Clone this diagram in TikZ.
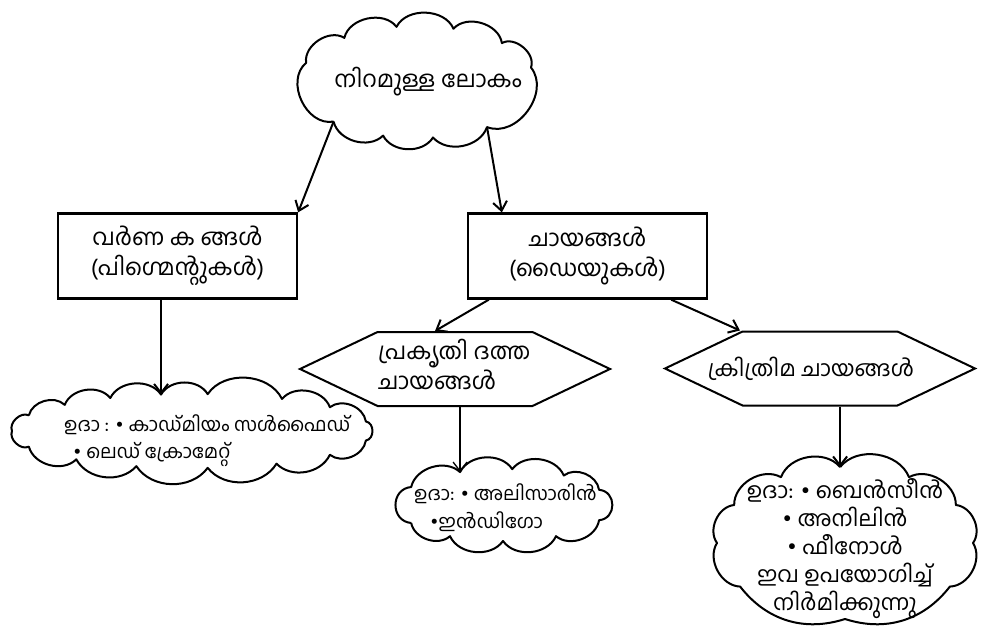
\documentclass[tikz,border=0pt]{standalone}
\usepackage{fontspec}
\newfontfamily\mlfont[Script=Malayalam]{Hind Kochi}
\usetikzlibrary{shapes.symbols,shapes.geometric,arrows.meta,calc}

% Puffy outline around an (invisible) elliptical node.
% #1 node name, #2 half width, #3 half height, #4 start angle,
% #5 list of angle/bend/looseness; cusp k is named <node>-p<k>.
\newcommand\puffoutline[5]{%
  \draw[cloudline] ($(#1.center)+({#2*cos(#4)},{#3*sin(#4)})$) coordinate (#1-p0)
    \foreach \t/\b/\l [count=\k] in {#5} {
      to[bend left=\b,looseness=\l] ($(#1.center)+({#2*cos(\t)},{#3*sin(\t)})$) coordinate (#1-p\k)
    };%
}

\begin{document}
\begin{tikzpicture}[x=1pt,y=-1pt,
  every node/.style={font=\mlfont\fontsize{23}{30}\selectfont},
  small/.style={font=\mlfont\fontsize{19}{27}\selectfont},
  box/.style={draw,line width=2.3pt,minimum width=239pt,minimum height=85pt,inner sep=0pt,align=center},
  hexa/.style={signal,signal to=east and west,signal pointer angle=51,draw,line width=2pt,
    minimum width=310pt,minimum height=74pt,inner sep=0pt},
  puffbase/.style={ellipse,inner sep=0pt},
  cloudline/.style={line width=2pt,line join=round},
  conn/.style={-{Straight Barb[length=9pt,width=14pt]},line width=2pt},
  thinconn/.style={-{Straight Barb[length=9pt,width=14pt]},line width=1.3pt},
  txt/.style={inner sep=0pt}
]
\useasboundingbox (0,0) rectangle (987,631);

% top-level idea
\node[puffbase,minimum width=236pt,minimum height=112pt] (world) at (417,82) {};
\puffoutline{world}{118}{56}{135}{200/75/1.1, 232/65/1, 260/65/1, 288/65/1, 316/65/1,
  345/70/1, 413.6/75/1.1, 442.2/60/1, 466.7/60/1, 495/60/1}
\node[txt] (worldtxt) at (428,82) {നിറമുള്ള ലോകം};

% two kinds of colourants
\node[box] (pig) at (177.5,256) {വർണ ക ങ്ങൾ\\(പിഗ്മെന്റുകൾ)};
\node[box] (dye) at (587.5,256) {ചായങ്ങൾ\\(ഡൈയുകൾ)};

% kinds of dyes
\node[hexa] (nat) at (455,369) {};
\node[txt,anchor=base west] (nattxta) at (378,359) {പ്രകൃതി ദത്ത};
\node[txt,anchor=base west] (nattxtb) at (378,389) {ചായങ്ങൾ};
\node[hexa] (syn) at (820,368.5) {};
\node[txt,anchor=base,font=\mlfont\fontsize{22}{30}\selectfont] (syntxt) at (811,376) {ക്രിത്രിമ ചായങ്ങൾ};

% examples of pigments
\node[puffbase,minimum width=360pt,minimum height=74pt] (pigeg) at (192,431) {};
\puffoutline{pigeg}{180}{37}{205}{225/60/1, 243/60/1, 260.1/60/1, 275/60/1, 300/60/1,
  320/60/1, 345/60/1, 375/80/1.2, 400/60/1, 422/55/1, 445/55/1, 468/55/1, 490/55/1,
  515/60/1, 540/70/1, 565/70/1}
\node[txt,small,anchor=base west] (pigegtxta) at (64,431) {ഉദാ : • കാഡ്മിയം സൾഫൈഡ്};
\node[txt,small,anchor=base west] (pigegtxtb) at (73,458) {• ലെഡ് ക്രോമേറ്റ്};

% examples of natural dyes
\node[puffbase,minimum width=212pt,minimum height=72pt] (nateg) at (503,505) {};
\puffoutline{nateg}{106}{36}{150}{210/85/1.5, 246.1/60/1, 275/60/1, 305/60/1, 335/60/1,
  385/85/1.5, 420/60/1, 450/60/1, 480/60/1, 510/60/1}
\node[txt,small,anchor=base west] (nategtxta) at (414,500) {ഉദാ: • അലിസാരിൻ};
\node[txt,small,anchor=base west] (nategtxtb) at (430,528) {•ഇൻഡിഗോ};

% examples of synthetic dyes
\node[puffbase,minimum width=256pt,minimum height=152pt] (syneg) at (845,543) {};
\puffoutline{syneg}{128}{76}{267.8}{300/60/1, 330/60/1, 360/60/1, 395/60/1, 450/35/1,
  505/35/1, 540/60/1, 570/60/1, 600/60/1, 627.8/60/1}
\node[txt,align=center,font=\mlfont\fontsize{22}{28}\selectfont] (synegtxt) at (845,549)
  {ഉദാ: • ബെൻസീൻ\\• അനിലിൻ\\• ഫീനോൾ\\ഇവ ഉപയോഗിച്ച്\\നിർമിക്കുന്നു};

% connectors
\draw[conn] (world-p0) -- (pig.north east);
\draw[conn] (world-p7) -- ($(dye.north west)+(35,0)$);
\draw[conn] (pigeg-p3 |- pig.south) -- (pigeg-p3);
\draw[conn] ($(dye.south west)+(22,0)$) -- ($(nat.north)+(-20,0)$);
\draw[conn] ($(dye.south east)+(-37,0)$) -- ($(syn.north)+(-80,0)$);
\draw[thinconn] (nateg-p2 |- nat.south) -- (nateg-p2);
\draw[conn] (syneg-p0 |- syn.south) -- (syneg-p0);
\end{tikzpicture}
\end{document}
